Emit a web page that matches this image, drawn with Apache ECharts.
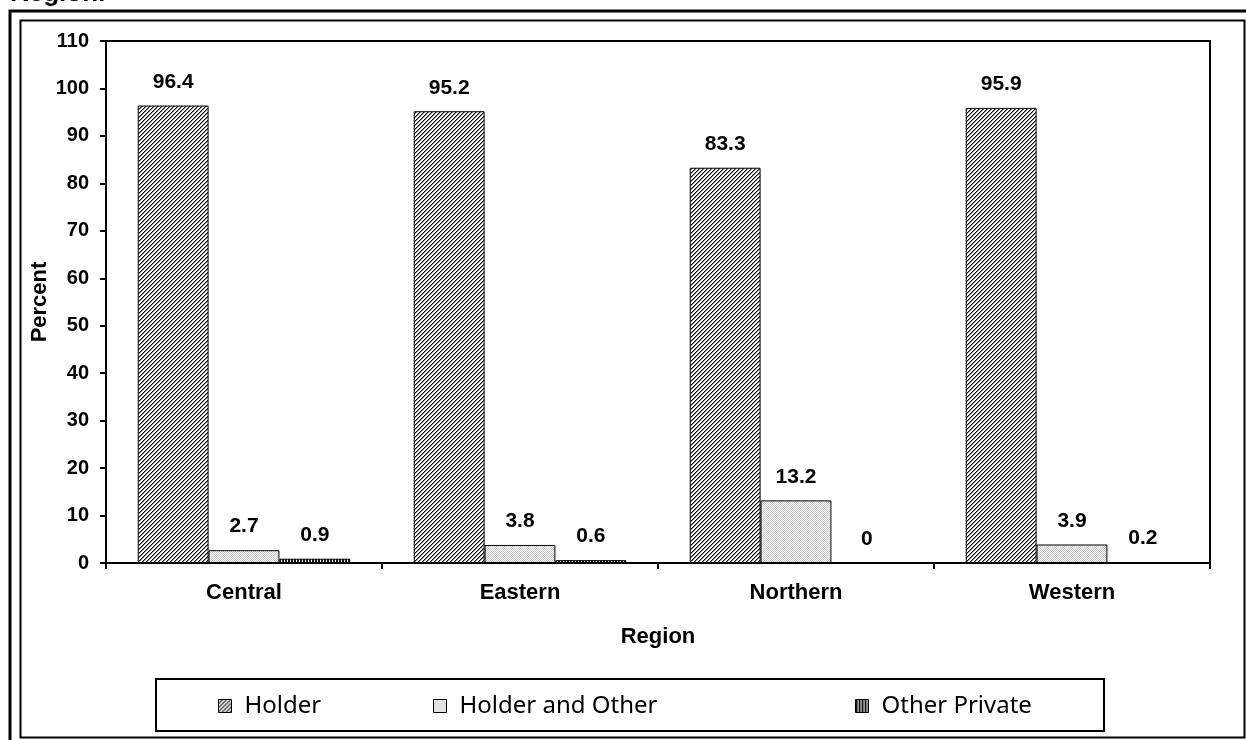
<!DOCTYPE html>
<html>
<head>
<meta charset="utf-8">
<script src="https://cdn.jsdelivr.net/npm/echarts@6/dist/echarts.min.js"></script>
<style>
html,body{margin:0;padding:0;background:#fff;}
#c{width:1246px;height:740px;}
</style>
</head>
<body>
<div id="c"></div>
<script>
const categories = ['Central', 'Eastern', 'Northern', 'Western'];
const seriesNames = ['Holder', 'Holder and Other', 'Other Private'];
const holder = [96.4, 95.2, 83.3, 95.9];
const holderAndOther = [2.7, 3.8, 13.2, 3.9];
const otherPrivate = [0.9, 0.6, 0, 0.2];
const yTicks = [0, 10, 20, 30, 40, 50, 60, 70, 80, 90, 100, 110];

function makeTile(size, fn) {
  const c = document.createElement('canvas');
  c.width = size; c.height = size;
  const ctx = c.getContext('2d');
  ctx.fillStyle = '#fff';
  ctx.fillRect(0, 0, size, size);
  for (let y = 0; y < size; y++) {
    for (let x = 0; x < size; x++) {
      const col = fn(x, y);
      if (col) { ctx.fillStyle = col; ctx.fillRect(x, y, 1, 1); }
    }
  }
  return { image: c, repeat: 'repeat' };
}
const hatch = makeTile(4, (x, y) => {
  const k = (x + y) % 4;
  if (k === 3) return '#000';
  if (k === 0) return '#8a8a8a';
  return null;
});
const cross = makeTile(4, (x, y) => ((x + y) % 2 === 0 ? '#c4c4c4' : null));
const vstripe = makeTile(3, (x, y) => (x % 3 !== 2 ? '#111' : null));

const chart = echarts.init(document.getElementById('c'), null, { renderer: 'canvas' });
const fontB = 'Liberation Sans, Arial, sans-serif';

function mkSeries(name, data, pattern) {
  return {
    name: name,
    type: 'bar',
    data: data,
    barGap: '0%',
    barCategoryGap: '23%',
    itemStyle: { color: pattern, borderColor: '#000', borderWidth: 1 },
    label: {
      show: true, position: 'top', distance: 13,
      fontFamily: fontB, fontWeight: 'bold', fontSize: 21, color: '#000'
    },
    emphasis: { disabled: true }
  };
}

function mkLegend(name, left) {
  return {
    data: [name], left: left, top: 694, padding: 0,
    itemWidth: 13, itemHeight: 13, icon: 'rect',
    itemStyle: { borderColor: '#000', borderWidth: 1 },
    textStyle: { fontFamily: 'Noto Sans', fontSize: 24, color: '#000', padding: [0, 0, 0, 8] },
    selectedMode: false
  };
}

chart.setOption({
  animation: false,
  backgroundColor: '#fff',
  grid: { left: 106, right: 36, top: 41, bottom: 177, show: true, borderColor: '#000', borderWidth: 2, backgroundColor: 'transparent' },
  xAxis: {
    type: 'category', data: categories,
    name: 'Region', nameLocation: 'middle', nameGap: 63,
    nameTextStyle: { fontFamily: fontB, fontWeight: 'bold', fontSize: 22, color: '#000' },
    axisLine: { lineStyle: { color: '#000', width: 2 } },
    axisTick: { show: true, length: 6, lineStyle: { color: '#000', width: 2 } },
    axisLabel: { fontFamily: fontB, fontWeight: 'bold', fontSize: 22, color: '#000', margin: 19 }
  },
  yAxis: {
    type: 'value', min: yTicks[0], max: yTicks[yTicks.length - 1], interval: 10,
    name: 'Percent', nameLocation: 'middle', nameGap: 55, nameRotate: 90,
    nameMoveOverlap: false,
    nameTextStyle: { fontFamily: fontB, fontWeight: 'bold', fontSize: 22, color: '#000' },
    axisLine: { show: true, lineStyle: { color: '#000', width: 2 } },
    axisTick: { show: true, length: 6, lineStyle: { color: '#000', width: 2 } },
    axisLabel: { fontFamily: fontB, fontWeight: 'bold', fontSize: 20, color: '#000', margin: 17 },
    splitLine: { show: false }
  },
  legend: [mkLegend(seriesNames[0], 218), mkLegend(seriesNames[1], 433), mkLegend(seriesNames[2], 855)],
  series: [
    mkSeries(seriesNames[0], holder, hatch),
    mkSeries(seriesNames[1], holderAndOther, cross),
    mkSeries(seriesNames[2], otherPrivate, vstripe)
  ],
  graphic: [
    { type: 'text', left: 10, top: -19, silent: true,
      style: { text: 'Region.', font: 'bold 26px Liberation Sans, Arial, sans-serif', fill: '#000' } },
    { type: 'polyline', silent: true,
      shape: { points: [[10, 745], [10, 11], [1250, 11]] },
      style: { stroke: '#000', lineWidth: 3, fill: null } },
    { type: 'rect', silent: true,
      shape: { x: 20.5, y: 20.5, width: 1224, height: 717 },
      style: { stroke: '#000', lineWidth: 2, fill: null } },
    { type: 'rect', silent: true,
      shape: { x: 156, y: 679, width: 948, height: 52 },
      style: { stroke: '#000', lineWidth: 2, fill: null } }
  ]
});
</script>
</body>
</html>
